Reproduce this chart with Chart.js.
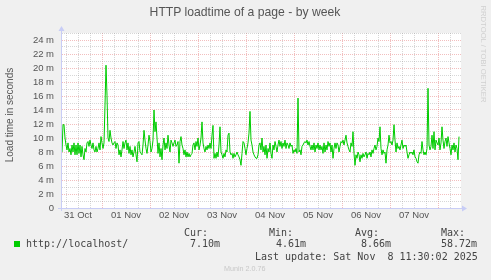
<!DOCTYPE html>
<html>
<head>
<meta charset="utf-8">
<script src="https://cdn.jsdelivr.net/npm/chart.js@4.4.0/dist/chart.umd.min.js"></script>
<style>
    body { margin: 0; background: #f0f0f0; }
    #wrap { position: relative; width: 491px; height: 280px; overflow: hidden; background: #f0f0f0;
            font-family: "Liberation Sans", Arial, sans-serif; color: #555; }
    #chart { position: absolute; left: 0; top: 0; }
    .txt { position: absolute; white-space: pre; }
    .mono { font-family: "DejaVu Sans Mono", monospace; font-size: 10px; line-height: 12px; color: #444; }
</style>
</head>
<body>
<div id="wrap">
    <canvas id="chart" width="491" height="280"></canvas>

    <div class="txt" style="left:0;width:490px;top:5px;text-align:center;font-size:12.2px;line-height:14px;">HTTP loadtime of a page - by week</div>
    <div class="txt" style="left:-90px;top:108px;width:200px;text-align:center;font-size:10px;line-height:14px;transform:rotate(-90deg);">Load time in seconds</div>
    <div class="txt" style="left:423px;top:49px;width:120px;text-align:center;font-size:7.7px;line-height:10px;color:#cfcfcf;transform:rotate(90deg);">RRDTOOL / TOBI OETIKER</div>

    <div class="txt mono" style="left:184px;top:227px;">Cur:</div>
    <div class="txt mono" style="left:269px;top:227px;">Min:</div>
    <div class="txt mono" style="left:355px;top:227px;">Avg:</div>
    <div class="txt mono" style="left:441px;top:227px;">Max:</div>

    <div style="position:absolute;left:14px;top:241px;width:6px;height:6px;background:#00cc00;"></div>
    <div class="txt mono" style="left:26px;top:238px;">http://localhost/</div>
    <div class="txt mono" style="left:190px;top:238px;">7.10m</div>
    <div class="txt mono" style="left:276px;top:238px;">4.61m</div>
    <div class="txt mono" style="left:361px;top:238px;">8.66m</div>
    <div class="txt mono" style="left:441px;top:238px;">58.72m</div>
    <div class="txt mono" style="left:255px;top:251px;">Last update: Sat Nov  8 11:30:02 2025</div>
    <div class="txt" style="left:224px;top:264px;font-size:7.2px;line-height:9px;color:#c8c8c8;">Munin 2.0.76</div>
</div>

<script>
// time axis: hours since 31 Oct 00:00, one sample every 30 minutes
const startHour = 3.5;
const stepHours = 0.5;
const endHour = 203.5;

const dayLabels = ['31 Oct', '01 Nov', '02 Nov', '03 Nov', '04 Nov', '05 Nov', '06 Nov', '07 Nov'];

// load time in milliseconds
const loadPart1 = [
    8.0, 8.0, 11.9, 11.9, 10.0, 9.0, 8.3, 9.3, 8.0, 8.5,
    7.6, 9.0, 8.0, 9.3, 7.6, 9.0, 7.6, 9.3, 7.8, 9.0,
    7.3, 8.8, 7.6, 6.9, 8.5, 8.0, 9.3, 9.5, 8.8, 9.7,
    9.0, 8.5, 9.3, 8.3, 8.0, 8.8, 8.0, 8.5, 9.3, 8.3,
    10.2, 9.3, 8.5, 9.3, 14.7, 20.4, 16.1, 10.0, 9.5, 11.1,
    10.0, 9.3, 9.0, 9.3, 9.5, 8.5, 9.3, 9.0, 7.6, 8.3,
    7.3, 8.3, 9.5, 8.5, 9.3
];
const loadPart2 = [
    9.7, 8.3, 9.3, 7.8, 8.8, 7.6, 8.3, 7.3, 8.0, 8.8,
    7.6, 6.6, 9.3, 9.5, 8.0, 7.8, 7.6, 9.0, 11.1, 9.7,
    8.5, 7.8, 9.0, 10.4, 9.5, 8.0, 8.5, 9.7, 14.0, 10.9,
    12.3, 10.0, 7.8, 9.3, 7.3, 8.5, 6.9, 9.0, 10.0, 8.3,
    9.3, 8.5, 10.4, 9.0, 8.0, 9.7, 9.3, 8.8, 9.3, 9.7,
    8.8, 9.0, 9.5, 6.4, 9.5, 10.2, 9.0, 8.5, 7.6, 8.3,
    7.3, 8.0, 7.3, 7.8, 7.3, 7.6
];
const loadPart3 = [
    7.8, 9.0, 9.3, 8.3, 9.5, 8.8, 10.0, 8.3, 9.0, 10.0,
    12.3, 9.3, 8.5, 8.0, 8.8, 8.3, 9.0, 8.5, 9.3, 8.5,
    10.4, 11.8, 7.1, 7.8, 7.1, 8.0, 7.3, 9.0, 11.6, 8.0,
    7.6, 7.1, 7.8, 7.3, 8.3, 8.0, 10.4, 10.7, 8.0, 7.6,
    7.8, 7.1, 7.8, 7.3, 7.6, 8.0, 7.6, 7.3, 6.9, 6.1,
    7.8, 9.5, 9.3, 8.5, 7.6, 8.5, 9.3, 10.7, 13.8, 9.7,
    9.0, 8.0, 7.6, 7.3, 7.1, 7.1
];
const loadPart4 = [
    7.6, 9.0, 9.3, 8.3, 10.0, 8.0, 8.8, 7.6, 9.0, 7.1,
    8.5, 8.0, 9.3, 7.8, 7.1, 9.0, 8.3, 9.5, 8.8, 8.0,
    9.0, 9.7, 8.8, 9.5, 8.5, 9.3, 8.8, 9.7, 8.5, 9.3,
    9.0, 8.5, 9.3, 8.8, 9.0, 7.8, 8.3, 8.0, 8.5, 7.8,
    15.7, 8.0, 8.3, 7.6, 8.8, 9.0, 9.3, 9.5, 9.3, 9.7,
    9.0, 9.5, 8.8, 8.3, 9.0, 8.3, 9.3, 8.0, 9.0, 8.5,
    9.3, 8.3, 9.0, 8.3, 8.8, 7.8
];
const loadPart5 = [
    9.3, 8.0, 9.0, 8.3, 9.5, 8.8, 9.3, 8.0, 9.0, 7.1,
    8.5, 9.3, 8.5, 9.3, 9.0, 8.0, 8.8, 9.5, 9.3, 9.7,
    9.0, 9.7, 10.4, 9.3, 8.8, 8.3, 8.0, 9.3, 8.8, 10.9,
    7.8, 6.1, 7.6, 7.1, 8.0, 7.6, 6.6, 7.6, 7.1, 7.8,
    7.3, 7.6, 8.0, 7.1, 7.8, 7.6, 8.0, 7.3, 8.3, 7.8,
    8.5, 9.0, 8.3, 8.8, 10.0, 9.5, 11.6, 8.5, 7.6, 8.3,
    7.8, 8.0, 6.4, 8.3, 9.0, 10.4
];
const loadPart6 = [
    9.3, 9.5, 9.0, 9.7, 11.9, 9.7, 8.0, 9.3, 8.5, 8.8,
    8.3, 9.0, 9.7, 8.5, 9.0, 8.8, 9.0, 8.0, 7.1, 7.6,
    8.0, 7.8, 8.0, 7.6, 8.3, 7.3, 7.1, 6.6, 6.4, 7.6,
    8.0, 7.8, 9.5, 8.3, 7.6, 8.0, 7.6, 8.5, 17.1, 9.0,
    8.3, 8.8, 10.4, 8.5, 10.9, 8.3, 9.7, 9.3, 9.0, 10.0,
    8.3, 9.3, 11.6, 9.7, 8.5, 9.5, 10.0, 8.8, 10.2, 9.3,
    8.5, 7.6, 9.0, 8.3, 9.3, 8.0, 9.0, 8.5, 6.9, 10.2
];

const loadTime = [].concat(loadPart1, loadPart2, loadPart3, loadPart4, loadPart5, loadPart6);

const minorGrid = 'rgba(150, 150, 150, 0.38)';
const majorGrid = 'rgba(225, 100, 100, 0.42)';
const axisColor = '#c8cdf6';
const tickFont = { family: 'Liberation Sans', size: 9.5 };

// white canvas behind the plot, like rrdtool
const plotBackground = {
    id: 'plotBackground',
    beforeDraw(chart) {
        const { ctx, chartArea } = chart;
        ctx.save();
        ctx.fillStyle = '#ffffff';
        ctx.fillRect(chartArea.left, chartArea.top, chartArea.right - chartArea.left, chartArea.bottom - chartArea.top);
        ctx.restore();
    }
};

// small arrow heads at the end of both axes
const axisArrows = {
    id: 'axisArrows',
    afterDraw(chart) {
        const { ctx, chartArea } = chart;
        const l = chartArea.left, r = chartArea.right, t = chartArea.top, b = chartArea.bottom;
        ctx.save();
        ctx.strokeStyle = axisColor;
        ctx.fillStyle = axisColor;
        ctx.lineWidth = 1;
        ctx.beginPath();
        ctx.moveTo(l - 3, b + 0.5);
        ctx.lineTo(r + 2, b + 0.5);
        ctx.moveTo(l + 0.5, b + 3);
        ctx.lineTo(l + 0.5, t - 2);
        ctx.stroke();
        ctx.beginPath();
        ctx.moveTo(r + 6, b + 0.5);
        ctx.lineTo(r + 1, b - 2.5);
        ctx.lineTo(r + 1, b + 3.5);
        ctx.closePath();
        ctx.fill();
        ctx.beginPath();
        ctx.moveTo(l + 0.5, t - 7);
        ctx.lineTo(l - 2.5, t - 2);
        ctx.lineTo(l + 3.5, t - 2);
        ctx.closePath();
        ctx.fill();
        ctx.restore();
    }
};

window.onload = function() {
    const points = loadTime.map((v, i) => ({ x: startHour + i * stepHours, y: v }));

    const ctx = document.getElementById('chart').getContext('2d');
    new Chart(ctx, {
        type: 'line',
        data: {
            datasets: [{
                label: 'http://localhost/',
                data: points,
                borderColor: '#00cc00',
                borderWidth: 1,
                pointRadius: 0,
                tension: 0,
                fill: false
            }]
        },
        options: {
            responsive: false,
            animation: false,
            layout: { padding: { left: 0, top: 33, right: 30, bottom: 0 } },
            plugins: {
                legend: { display: false },
                tooltip: { enabled: false },
                title: { display: false }
            },
            scales: {
                x: {
                    type: 'linear',
                    min: startHour,
                    max: endHour,
                    afterBuildTicks: scale => {
                        const ticks = [];
                        for (let h = 6; h < endHour; h += 6) ticks.push({ value: h });
                        scale.ticks = ticks;
                    },
                    afterFit: scale => { scale.height = 72; },
                    ticks: {
                        autoSkip: false,
                        maxRotation: 0,
                        padding: 2,
                        color: '#555',
                        font: tickFont,
                        callback: value => ((value - 12) % 24 === 0 ? dayLabels[(value - 12) / 24] : '')
                    },
                    grid: {
                        drawTicks: false,
                        lineWidth: 1,
                        color: c => (c.tick && c.tick.value % 24 === 0 ? majorGrid : minorGrid)
                    },
                    border: { color: axisColor, dash: [1, 1] }
                },
                y: {
                    min: 0,
                    max: 25,
                    afterBuildTicks: scale => {
                        const ticks = [];
                        for (let v = 0; v <= 25; v++) ticks.push({ value: v });
                        scale.ticks = ticks;
                    },
                    afterFit: scale => { scale.width = 61; },
                    ticks: {
                        autoSkip: false,
                        padding: 7,
                        color: '#555',
                        font: tickFont,
                        callback: value => (value % 2 !== 0 ? '' : (value === 0 ? '0' : value + ' m'))
                    },
                    grid: {
                        drawTicks: false,
                        lineWidth: 1,
                        color: c => (c.tick && c.tick.value % 2 === 0 ? majorGrid : minorGrid)
                    },
                    border: { color: axisColor, dash: [1, 1] }
                }
            }
        },
        plugins: [plotBackground, axisArrows]
    });
};
</script>
</body>
</html>
